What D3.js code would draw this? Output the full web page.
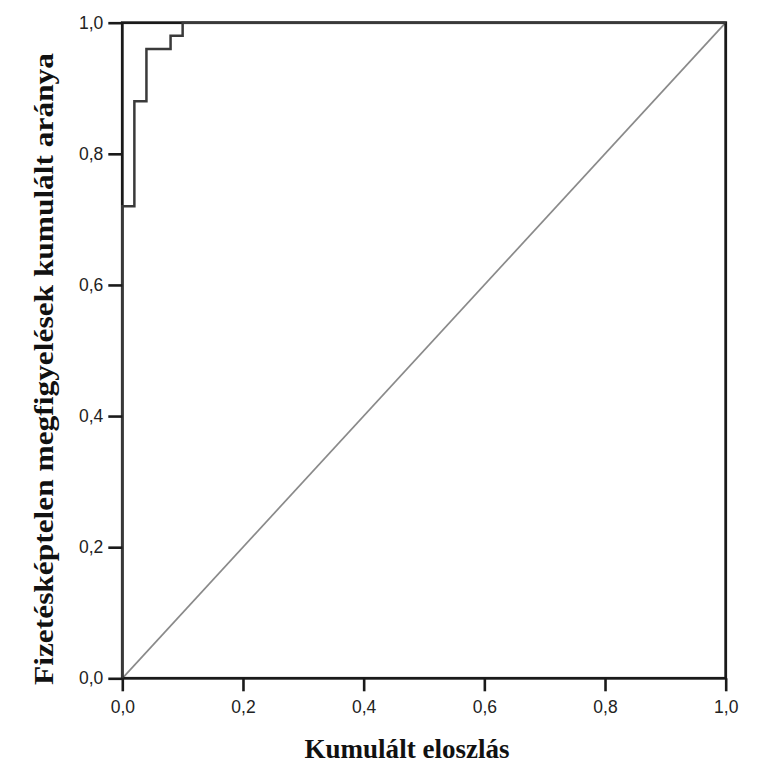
<!DOCTYPE html>
<html>
<head>
<meta charset="utf-8">
<script src="https://cdn.jsdelivr.net/npm/d3@7"></script>
<style>
  html, body { margin: 0; padding: 0; background: #fff; }
  svg { display: block; }
</style>
</head>
<body>
<svg id="chart" width="772" height="765"></svg>
<script>
// ROC curve: cumulative share of defaulted observations vs. cumulative distribution
const rocFpr = [0, 0, 0.02, 0.02, 0.04, 0.04, 0.08, 0.08, 0.10, 0.10, 1.0];
const rocTpr = [0, 0.72, 0.72, 0.88, 0.88, 0.96, 0.96, 0.98, 0.98, 1.0, 1.0];
const refLine = [0, 1];
const tickValues = [0, 0.2, 0.4, 0.6, 0.8, 1.0];
const xTitle = "Kumulált eloszlás";
const yTitle = "Fizetésképtelen megfigyelések kumulált aránya";

const svg = d3.select("#chart");
const plotLeft = 122.3, plotRight = 725.7, plotTop = 22.7, plotBottom = 678.3;

const x = d3.scaleLinear().domain([0, 1]).range([plotLeft, plotRight]);
const y = d3.scaleLinear().domain([0, 1]).range([plotBottom, plotTop]);

const fmt = d => d3.format(".1f")(d).replace(".", ",");

// reference diagonal
svg.append("line")
  .attr("x1", x(refLine[0])).attr("y1", y(refLine[0]))
  .attr("x2", x(refLine[1])).attr("y2", y(refLine[1]))
  .attr("stroke", "#8a8a8a").attr("stroke-width", 1.7);

// frame
svg.append("rect")
  .attr("x", plotLeft).attr("y", plotTop)
  .attr("width", plotRight - plotLeft).attr("height", plotBottom - plotTop)
  .attr("fill", "none").attr("stroke", "#1a1a1a").attr("stroke-width", 2.8);

// step curve
const pts = rocFpr.map((f, i) => [f, rocTpr[i]]);
svg.append("path")
  .datum(pts)
  .attr("d", d3.line().x(d => x(d[0])).y(d => y(d[1])))
  .attr("fill", "none").attr("stroke", "#3a3a3a").attr("stroke-width", 2.5)
  .attr("stroke-linejoin", "miter");

// axes
const xAxis = d3.axisBottom(x).tickValues(tickValues).tickFormat(fmt)
  .tickSize(13).tickSizeOuter(0).tickPadding(9);
const yAxis = d3.axisLeft(y).tickValues(tickValues).tickFormat(fmt)
  .tickSize(14).tickSizeOuter(0).tickPadding(5);

const gx = svg.append("g").attr("transform", `translate(0,${plotBottom})`).call(xAxis);
const gy = svg.append("g").attr("transform", `translate(${plotLeft},0)`).call(yAxis);

[gx, gy].forEach(g => {
  g.select(".domain").remove();
  g.selectAll(".tick line").attr("stroke", "#1a1a1a").attr("stroke-width", 2.6);
  g.selectAll(".tick text")
    .attr("fill", "#222")
    .style("font-family", "'Liberation Sans', Arial, sans-serif")
    .style("font-size", "17.5px");
});

// axis titles
svg.append("text")
  .attr("x", 407).attr("y", 758)
  .attr("text-anchor", "middle")
  .style("font-family", "'Liberation Serif', 'Times New Roman', serif")
  .style("font-weight", "bold").style("font-size", "27px")
  .attr("fill", "#111")
  .attr("textLength", 205).attr("lengthAdjust", "spacingAndGlyphs")
  .text(xTitle);

svg.append("text")
  .attr("transform", "translate(53,369) rotate(-90)")
  .attr("text-anchor", "middle")
  .style("font-family", "'Liberation Serif', 'Times New Roman', serif")
  .style("font-weight", "bold").style("font-size", "27px")
  .attr("fill", "#111")
  .attr("textLength", 632).attr("lengthAdjust", "spacingAndGlyphs")
  .text(yTitle);
</script>
</body>
</html>
